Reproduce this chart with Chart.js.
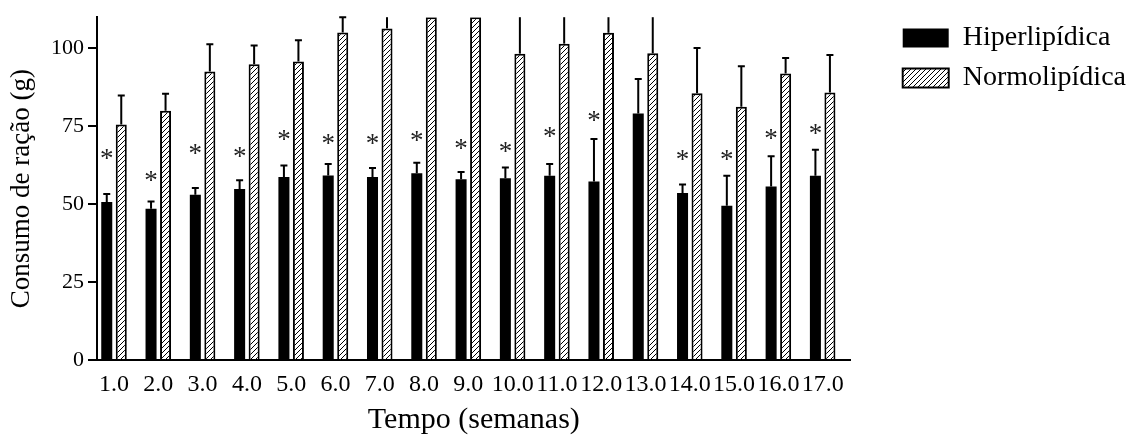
<!DOCTYPE html>
<html>
<head>
<meta charset="utf-8">
<script src="https://cdn.jsdelivr.net/npm/chart.js@4.4.1/dist/chart.umd.min.js"></script>
<style>
    html, body { margin: 0; padding: 0; background: #fff; }
</style>
</head>
<body>
<canvas id="chart" width="1136" height="435"></canvas>
<script>
// weeks on the x axis
const weeks = [1, 2, 3, 4, 5, 6, 7, 8, 9, 10, 11, 12, 13, 14, 15, 16, 17];
const seriesNames = ['Hiperlipídica', 'Normolipídica'];

// mean food intake (g) and upper error (SD)
const hiperMean = [50.7, 48.5, 53.0, 54.9, 58.7, 59.2, 58.7, 59.9, 58.0, 58.3, 59.1, 57.3, 79.1, 53.6, 49.5, 55.7, 59.1];
const hiperSd   = [2.6, 2.4, 2.2, 2.8, 3.7, 3.7, 2.9, 3.4, 2.3, 3.5, 3.8, 13.6, 11.1, 2.7, 9.6, 9.7, 8.4];
const normoMean = [75.6, 80.0, 92.6, 94.9, 95.8, 105.1, 106.4, 110, 110, 98.3, 101.5, 105.0, 98.4, 85.6, 81.3, 91.9, 85.8];
const normoSd   = [9.3, 5.4, 8.7, 6.0, 6.8, 4.9, 7.0, 6.0, 6.0, 13.0, 10.0, 8.0, 13.0, 14.5, 13.0, 5.0, 12.1];

// where the significance asterisk sits (y value), null = none
const asteriskAt = [65.9, 58.9, 67.5, 66.5, 72.0, 70.7, 70.7, 71.8, 69.1, 68.1, 73.0, 78.1, null, 65.6, 65.6, 72.5, 73.9];

const yTicks = [0, 25, 50, 75, 100];
const yMax = 110;

const serif = '"Liberation Serif", "Times New Roman", serif';

// diagonal hatch for the normolipidic bars
function makeHatch() {
    const size = 5;
    const c = document.createElement('canvas');
    c.width = size;
    c.height = size;
    const g = c.getContext('2d');
    g.fillStyle = '#fff';
    g.fillRect(0, 0, size, size);
    g.strokeStyle = '#000';
    g.lineWidth = 1;
    g.beginPath();
    g.moveTo(0, size);
    g.lineTo(size, 0);
    g.moveTo(-1, 1);
    g.lineTo(1, -1);
    g.moveTo(size - 1, size + 1);
    g.lineTo(size + 1, size - 1);
    g.stroke();
    return g.createPattern(c, 'repeat');
}

const hatch = makeHatch();
const sds = [hiperSd, normoSd];
const means = [hiperMean, normoMean];

// error bars (upward only) and asterisks
const extrasPlugin = {
    id: 'extras',
    afterDatasetsDraw(chart) {
        const ctx = chart.ctx;
        const area = chart.chartArea;
        const yScale = chart.scales.y;
        ctx.save();
        ctx.strokeStyle = '#000';
        ctx.lineWidth = 2;
        for (let d = 0; d < 2; d++) {
            const meta = chart.getDatasetMeta(d);
            meta.data.forEach((bar, i) => {
                const top = yScale.getPixelForValue(means[d][i]);
                const end = yScale.getPixelForValue(means[d][i] + sds[d][i]);
                const endClipped = Math.max(end, area.top);
                if (top <= area.top) return;
                ctx.beginPath();
                ctx.moveTo(bar.x, top);
                ctx.lineTo(bar.x, endClipped);
                if (end >= area.top - 0.5) {
                    ctx.moveTo(bar.x - 3.5, endClipped);
                    ctx.lineTo(bar.x + 3.5, endClipped);
                }
                ctx.stroke();
            });
        }

        ctx.fillStyle = '#222';
        ctx.font = '27px ' + serif;
        ctx.textAlign = 'center';
        ctx.textBaseline = 'alphabetic';
        const m = ctx.measureText('*');
        const shift = (m.actualBoundingBoxAscent - m.actualBoundingBoxDescent) / 2;
        const meta0 = chart.getDatasetMeta(0);
        asteriskAt.forEach((v, i) => {
            if (v === null) return;
            const x = meta0.data[i].x;
            ctx.fillText('*', x, yScale.getPixelForValue(v) + shift);
        });
        ctx.restore();
    }
};

const ctx = document.getElementById('chart').getContext('2d');
new Chart(ctx, {
    type: 'bar',
    data: {
        datasets: [{
            label: seriesNames[0],
            data: weeks.map((w, i) => ({ x: w, y: hiperMean[i] })),
            backgroundColor: '#000',
            borderWidth: 0,
            clip: 0
        }, {
            label: seriesNames[1],
            data: weeks.map((w, i) => ({ x: w, y: normoMean[i] })),
            backgroundColor: hatch,
            borderColor: '#000',
            borderWidth: 2,
            clip: 0
        }]
    },
    options: {
        responsive: false,
        animation: false,
        categoryPercentage: 0.655,
        barPercentage: 0.76,
        layout: { padding: { top: 12, right: 0, bottom: 0, left: 0 } },
        plugins: {
            tooltip: { enabled: false },
            legend: {
                position: 'right',
                align: 'start',
                maxWidth: 300,
                labels: {
                    color: '#000',
                    boxWidth: 46,
                    boxHeight: 19,
                    padding: 12,
                    font: { family: serif, size: 28 }
                }
            }
        },
        scales: {
            x: {
                type: 'linear',
                offset: false,
                min: 0.616,
                max: 17.633,
                afterBuildTicks: scale => {
                    scale.ticks = weeks.map(w => ({ value: w }));
                },
                afterFit: scale => { scale.height = 75; },
                grid: { display: false, drawTicks: false },
                border: { display: true, color: '#000', width: 2 },
                ticks: {
                    autoSkip: false,
                    maxRotation: 0,
                    padding: 10,
                    color: '#000',
                    font: { family: serif, size: 24 },
                    callback: v => Number(v).toFixed(1)
                },
                title: {
                    display: true,
                    text: 'Tempo (semanas)',
                    color: '#000',
                    font: { family: serif, size: 30, lineHeight: 1 },
                    padding: { top: 0, bottom: 0 }
                }
            },
            y: {
                min: 0,
                max: yMax,
                afterBuildTicks: scale => {
                    scale.ticks = yTicks.map(v => ({ value: v }));
                },
                afterFit: scale => { scale.width = 97; },
                grid: {
                    display: true,
                    drawOnChartArea: false,
                    drawTicks: true,
                    tickLength: 9,
                    color: '#000',
                    lineWidth: 2
                },
                border: { display: true, color: '#000', width: 2 },
                ticks: {
                    padding: 4,
                    color: '#000',
                    font: { family: serif, size: 22 }
                },
                title: {
                    display: true,
                    text: 'Consumo de ração (g)',
                    color: '#000',
                    font: { family: serif, size: 27, lineHeight: 1 },
                    padding: { top: 8, bottom: 0 }
                }
            },
            gap: {
                type: 'linear',
                axis: 'y',
                position: 'right',
                display: true,
                grid: { display: false },
                border: { display: false },
                ticks: { display: false },
                afterFit: scale => { scale.width = 40; }
            }
        }
    },
    plugins: [extrasPlugin]
});
</script>
</body>
</html>
